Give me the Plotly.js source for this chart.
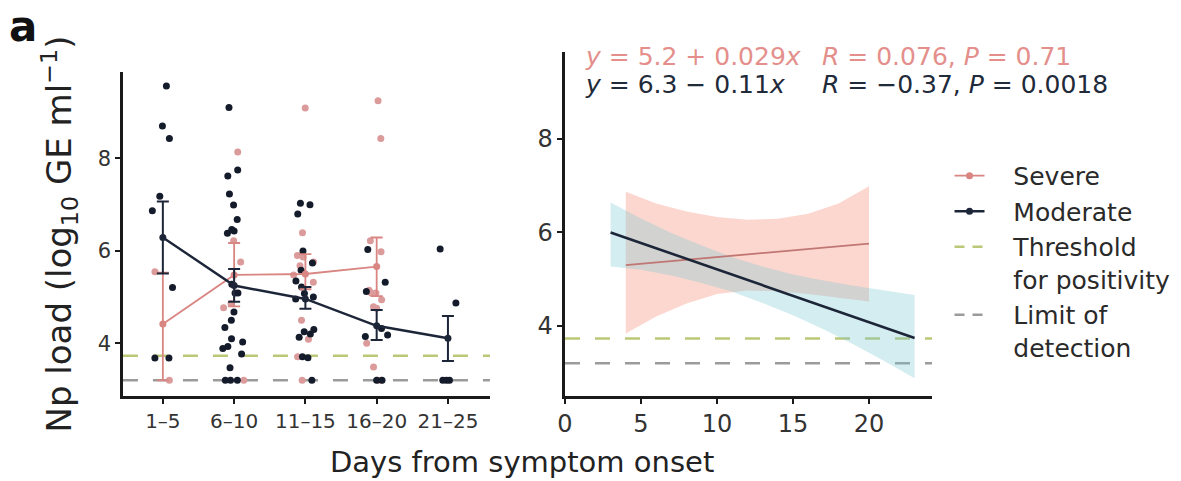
<!DOCTYPE html>
<html>
<head>
<meta charset="utf-8">
<script src="https://cdn.plot.ly/plotly-3.0.1.min.js"></script>
<style>html,body{margin:0;padding:0;background:#fff;}#chart{width:1181px;height:481px;}</style>
</head>
<body>
<div id="chart"></div>
<script>
// ---------- data ----------
const categories = ['1–5', '6–10', '11–15', '16–20', '21–25'];

// individual samples, moderate patients (log10 GE/ml)
const modPts_1_5   = [9.57, 8.70, 8.43, 7.18, 6.87, 5.21, 3.68, 3.68];
const modPts_6_10  = [9.10, 7.75, 7.62, 7.23, 6.99, 6.68, 6.46, 6.43, 6.38, 5.28, 5.09, 5.09, 4.68, 4.50, 4.34, 4.10, 4.03, 3.93, 3.89, 3.77, 3.47, 3.2, 3.2, 3.2];
const modPts_11_15 = [7.03, 7.00, 6.80, 6.00, 5.74, 5.58, 5.35, 5.22, 5.08, 5.00, 4.96, 4.30, 4.25, 4.20, 4.13, 3.71, 3.69, 3.2];
const modPts_16_20 = [6.03, 5.32, 5.12, 4.32, 4.18, 4.15, 3.2, 3.2];
const modPts_21_25 = [6.04, 4.87, 3.2, 3.2, 3.2];

// individual samples, severe patients
const sevPts_1_5   = [5.55, 3.2];
const sevPts_6_10  = [8.14, 6.22, 5.76, 4.86, 4.77, 3.2];
const sevPts_11_15 = [9.09, 6.39, 5.90, 5.87, 5.76, 5.68, 5.48, 5.32, 4.50, 4.09, 3.71, 3.2];
const sevPts_16_20 = [9.25, 8.43, 6.22, 5.98, 5.15, 5.09, 5.09, 4.94, 4.79, 4.76, 4.00, 3.49, 3.2, 3.2];

// group means with error bar limits
const modMean = [6.29, 5.25, 4.96, 4.38, 4.11];
const modHigh = [7.07, 5.61, 5.22, 4.72, 4.59];
const modLow  = [5.51, 4.90, 4.75, 4.07, 3.62];
const sevCats = ['1–5', '6–10', '11–15', '16–20'];
const sevMean = [4.42, 5.48, 5.50, 5.66];
const sevHigh = [5.53, 6.17, 5.93, 6.29];
const sevLow  = [3.20, 4.80, 5.17, 5.02];

// reference levels
const thresholdLevel = 3.73;
const lodLevel = 3.20;

// regression fits (right panel)
const modFitX = [3, 23];
const modFitY = [6.00, 3.74];
const sevFitX = [4, 20];
const sevFitY = [5.30, 5.76];

const sevBandX     = [4, 6, 8, 10, 12, 14, 16, 18, 20];
const sevBandUpper = [6.87, 6.62, 6.45, 6.33, 6.27, 6.29, 6.40, 6.62, 6.99];
const sevBandLower = [3.84, 4.20, 4.48, 4.68, 4.76, 4.74, 4.68, 4.60, 4.52];

const modBandX     = [3, 5, 7, 9, 11, 13, 15, 17, 19, 21, 23];
const modBandUpper = [6.64, 6.30, 5.99, 5.72, 5.47, 5.27, 5.10, 4.97, 4.86, 4.76, 4.66];
const modBandLower = [5.27, 5.20, 5.08, 4.92, 4.73, 4.49, 4.23, 3.93, 3.60, 3.25, 2.88];

const sevEq = '<i>y</i> = 5.2 + 0.029<i>x</i>';
const sevStat = '<i>R</i> = 0.076, <i>P</i> = 0.71';
const modEq = '<i>y</i> = 6.3 − 0.11<i>x</i>';
const modStat = '<i>R</i> = −0.37, <i>P</i> = 0.0018';

const legendNames = ['Severe', 'Moderate', 'Threshold<br>for positivity', 'Limit of<br>detection'];

// ---------- styling ----------
const FONT = 'DejaVu Sans, Liberation Sans, Arial, sans-serif';
const NAVY = '#1c2638';
const NAVY_DOT = '#141b2b';
const PINK = '#d98683';
const PINK_DOT = '#dc9b9b';
const PINK_TXT = '#e48f8b';
const GREEN = '#bcc878';
const GREY = '#9b9b9b';
const AX = '#1a1a1a';
const PAD = '\u00A0\u00A0\u00A0';
const padName = s => s.split('<br>').map(l => PAD + l).join('<br>');

function groupX(arrs) {
  const xs = [];
  arrs.forEach((a, i) => a.forEach(() => xs.push(categories[i])));
  return xs;
}
const modGroups = [modPts_1_5, modPts_6_10, modPts_11_15, modPts_16_20, modPts_21_25];
const sevGroups = [sevPts_1_5, sevPts_6_10, sevPts_11_15, sevPts_16_20];

function pointsTrace(groups, color) {
  return {
    type: 'box', x: groupX(groups), y: [].concat(...groups),
    boxpoints: 'all', jitter: 0.7, pointpos: 0, width: 0.5,
    marker: {size: 7, color: color, opacity: 1},
    line: {width: 0, color: 'rgba(0,0,0,0)'}, fillcolor: 'rgba(0,0,0,0)',
    whiskerwidth: 0, showlegend: false, hoverinfo: 'y', xaxis: 'x', yaxis: 'y'
  };
}

const diff = (a, b) => a.map((v, i) => v - b[i]);

const traces = [
  pointsTrace(sevGroups, PINK_DOT),
  pointsTrace(modGroups, NAVY_DOT),
  {
    type: 'scatter', mode: 'lines+markers', name: padName(legendNames[0]), legendrank: 1,
    x: sevCats, y: sevMean, xaxis: 'x', yaxis: 'y',
    line: {color: PINK, width: 1.8}, marker: {color: PINK, size: 7},
    error_y: {type: 'data', symmetric: false, array: diff(sevHigh, sevMean), arrayminus: diff(sevMean, sevLow), color: PINK, thickness: 1.8, width: 6}
  },
  {
    type: 'scatter', mode: 'lines+markers', name: padName(legendNames[1]), legendrank: 2,
    x: categories, y: modMean, xaxis: 'x', yaxis: 'y',
    line: {color: NAVY, width: 2.4}, marker: {color: NAVY, size: 7},
    error_y: {type: 'data', symmetric: false, array: diff(modHigh, modMean), arrayminus: diff(modMean, modLow), color: NAVY, thickness: 2, width: 6}
  },
  // right panel: confidence bands
  {
    type: 'scatter', mode: 'lines', fill: 'toself', showlegend: false, hoverinfo: 'skip',
    x: sevBandX.concat(sevBandX.slice().reverse()),
    y: sevBandUpper.concat(sevBandLower.slice().reverse()),
    fillcolor: 'rgba(246,140,118,0.35)', line: {width: 0}, xaxis: 'x2', yaxis: 'y2'
  },
  {
    type: 'scatter', mode: 'lines', fill: 'toself', showlegend: false, hoverinfo: 'skip',
    x: modBandX.concat(modBandX.slice().reverse()),
    y: modBandUpper.concat(modBandLower.slice().reverse()),
    fillcolor: 'rgba(120,200,210,0.32)', line: {width: 0}, xaxis: 'x2', yaxis: 'y2'
  },
  {
    type: 'scatter', mode: 'lines', showlegend: false, x: sevFitX, y: sevFitY,
    line: {color: '#c07774', width: 1.8}, xaxis: 'x2', yaxis: 'y2'
  },
  {
    type: 'scatter', mode: 'lines', showlegend: false, x: modFitX, y: modFitY,
    line: {color: NAVY, width: 2.6}, xaxis: 'x2', yaxis: 'y2'
  },
  // legend entries for the reference levels (lines themselves are shapes)
  {
    type: 'scatter', mode: 'lines', name: padName(legendNames[2]), legendrank: 3,
    x: [null], y: [null], line: {color: GREEN, width: 2.5, dash: '10px,8px'}, xaxis: 'x2', yaxis: 'y2'
  },
  {
    type: 'scatter', mode: 'lines', name: padName(legendNames[3]), legendrank: 4,
    x: [null], y: [null], line: {color: GREY, width: 2.5, dash: '10px,8px'}, xaxis: 'x2', yaxis: 'y2'
  }
];

function hline(xref, yref, level, color) {
  return {type: 'line', xref: xref, yref: yref, x0: 0, x1: 1, y0: level, y1: level,
          line: {color: color, width: 2.5, dash: '15px,15px'}, layer: 'below'};
}

const axisCommon = {
  showline: true, linewidth: 2.5, linecolor: AX, ticks: 'outside', ticklen: 5, tickwidth: 2,
  tickcolor: AX, showgrid: false, zeroline: false, fixedrange: true
};

const layout = {
  width: 1181, height: 481,
  margin: {l: 0, r: 0, t: 0, b: 0},
  paper_bgcolor: '#ffffff', plot_bgcolor: '#ffffff',
  font: {family: FONT, color: '#222'},
  boxmode: 'overlay',
  showlegend: true,
  legend: {
    x: 0.804, y: 0.682, xanchor: 'left', yanchor: 'top',
    font: {family: FONT, size: 25, color: '#2a2a2a'},
    valign: 'top', itemwidth: 30, tracegroupgap: 0, bgcolor: 'rgba(0,0,0,0)'
  },
  xaxis: Object.assign({}, axisCommon, {
    domain: [0.1041, 0.4149], anchor: 'y', type: 'category',
    categoryorder: 'array', categoryarray: categories, range: [-0.56, 4.59],
    tickfont: {family: FONT, size: 20, color: '#333'}
  }),
  yaxis: Object.assign({}, axisCommon, {
    domain: [0.1767, 0.8503], anchor: 'x', range: [2.86, 9.87], tickvals: [4, 6, 8],
    tickfont: {family: FONT, size: 21, color: '#333'},
    title: {text: 'Np load (log<sub>10</sub> GE ml<sup>−1</sup>)', font: {family: FONT, size: 34, color: '#222'}, standoff: 16}
  }),
  xaxis2: Object.assign({}, axisCommon, {
    domain: [0.4784, 0.7892], anchor: 'y2', range: [0, 24.15], tickvals: [0, 5, 10, 15, 20],
    tickfont: {family: FONT, size: 24, color: '#333'}
  }),
  yaxis2: Object.assign({}, axisCommon, {
    domain: [0.1767, 0.8919], anchor: 'x2', range: [2.5, 9.86], tickvals: [4, 6, 8],
    tickfont: {family: FONT, size: 24, color: '#333'}
  }),
  shapes: [
    hline('x domain', 'y', thresholdLevel, GREEN),
    hline('x domain', 'y', lodLevel, GREY),
    hline('x2 domain', 'y2', thresholdLevel, GREEN),
    hline('x2 domain', 'y2', lodLevel, GREY)
  ],
  annotations: [
    {text: '<b>a</b>', xref: 'paper', yref: 'paper', x: 0.006, y: 1.0, xanchor: 'left', yanchor: 'top',
     showarrow: false, font: {family: FONT, size: 42, color: '#111'}},
    {text: sevEq, xref: 'paper', yref: 'paper', x: 583 / 1181, y: 1 - 57 / 481, xanchor: 'left', yanchor: 'middle',
     showarrow: false, font: {family: FONT, size: 25, color: PINK_TXT}},
    {text: sevStat, xref: 'paper', yref: 'paper', x: 820 / 1181, y: 1 - 57 / 481, xanchor: 'left', yanchor: 'middle',
     showarrow: false, font: {family: FONT, size: 25, color: PINK_TXT}},
    {text: modEq, xref: 'paper', yref: 'paper', x: 583 / 1181, y: 1 - 84 / 481, xanchor: 'left', yanchor: 'middle',
     showarrow: false, font: {family: FONT, size: 25, color: '#1f2a3a'}},
    {text: modStat, xref: 'paper', yref: 'paper', x: 820 / 1181, y: 1 - 84 / 481, xanchor: 'left', yanchor: 'middle',
     showarrow: false, font: {family: FONT, size: 25, color: '#1f2a3a'}},
    {text: 'Days from symptom onset', xref: 'paper', yref: 'paper', x: 522 / 1181, y: 1 - 462 / 481,
     xanchor: 'center', yanchor: 'middle', showarrow: false, font: {family: FONT, size: 29, color: '#222'}}
  ]
};

Plotly.newPlot('chart', traces, layout, {staticPlot: true, displayModeBar: false});
</script>
</body>
</html>
